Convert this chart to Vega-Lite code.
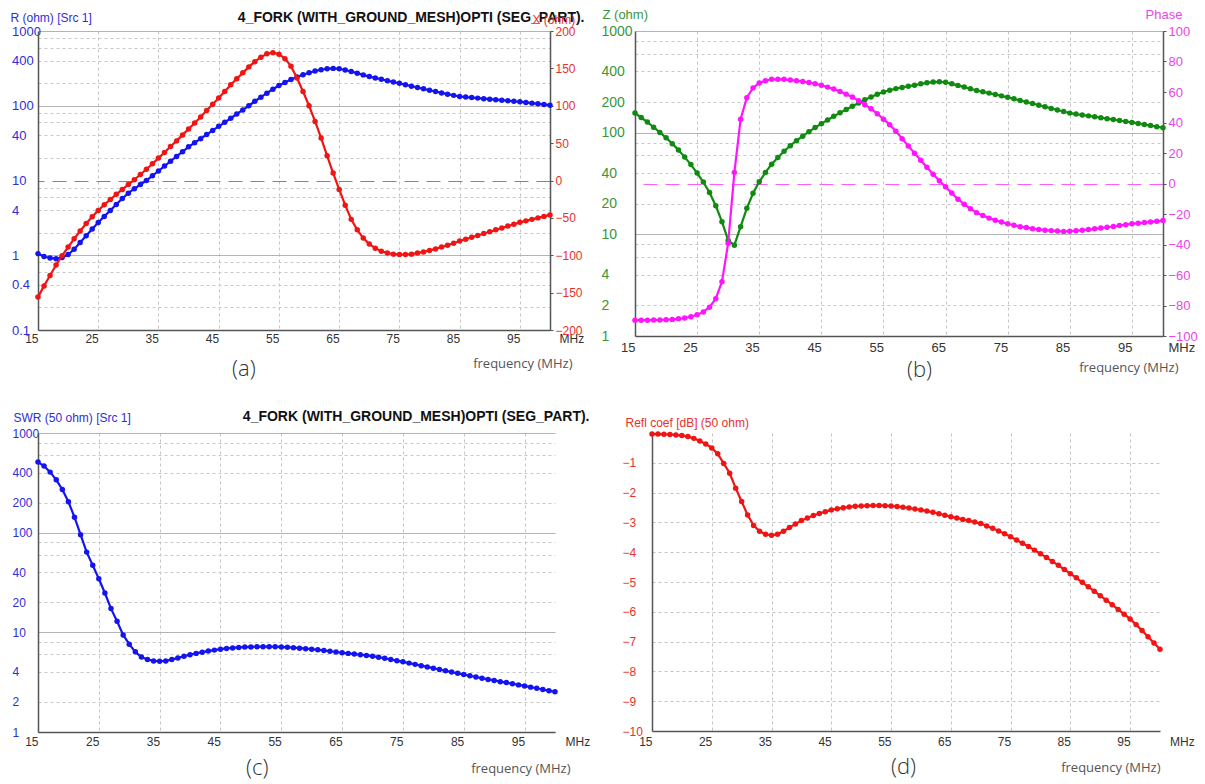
{
"$schema": "https://vega.github.io/schema/vega-lite/v6.json",
"background": "white",
"padding": {"left": 10, "top": 8, "right": 0, "bottom": 0},
"datasets": {"ant": [
{"f":15,"R":1.05,"X":-156,"Z":156,"P":-89.6,"S":511,"G":-0.034},
{"f":16,"R":0.96,"X":-141,"Z":141,"P":-89.6,"S":466,"G":-0.037},
{"f":17,"R":0.92,"X":-127,"Z":127,"P":-89.6,"S":405,"G":-0.043},
{"f":18,"R":0.90,"X":-113,"Z":113,"P":-89.5,"S":339,"G":-0.051},
{"f":19,"R":0.93,"X":-100.5,"Z":100.5,"P":-89.5,"S":271,"G":-0.064},
{"f":20,"R":1.02,"X":-89,"Z":89,"P":-89.3,"S":204,"G":-0.085},
{"f":21,"R":1.2,"X":-78,"Z":78,"P":-89.1,"S":143,"G":-0.12},
{"f":22,"R":1.48,"X":-67.5,"Z":67.5,"P":-88.7,"S":95.4,"G":-0.18},
{"f":23,"R":1.82,"X":-57.5,"Z":57.5,"P":-88.2,"S":63.8,"G":-0.27},
{"f":24,"R":2.24,"X":-48.5,"Z":48.55,"P":-87.4,"S":47,"G":-0.37},
{"f":25,"R":2.75,"X":-40,"Z":40.09,"P":-86.1,"S":34.5,"G":-0.5},
{"f":26,"R":3.31,"X":-32.5,"Z":32.67,"P":-84.2,"S":24.8,"G":-0.7},
{"f":27,"R":3.98,"X":-25.5,"Z":25.81,"P":-81.1,"S":17.3,"G":-1.02},
{"f":28,"R":4.79,"X":-18.5,"Z":19.11,"P":-75.5,"S":12.9,"G":-1.35},
{"f":29,"R":5.75,"X":-12,"Z":13.31,"P":-64.4,"S":9.42,"G":-1.85},
{"f":30,"R":6.76,"X":-5.5,"Z":8.71,"P":-39.1,"S":7.6,"G":-2.3},
{"f":31,"R":7.76,"X":1,"Z":7.82,"P":7.3,"S":6.37,"G":-2.75},
{"f":32,"R":8.81,"X":8,"Z":11.9,"P":42.2,"S":5.66,"G":-3.1},
{"f":33,"R":10,"X":15,"Z":18.03,"P":56.3,"S":5.33,"G":-3.3},
{"f":34,"R":11.6,"X":22.5,"Z":25.31,"P":62.7,"S":5.17,"G":-3.4},
{"f":35,"R":13.4,"X":30,"Z":32.86,"P":65.9,"S":5.13,"G":-3.43},
{"f":36,"R":15.6,"X":37.5,"Z":40.62,"P":67.4,"S":5.17,"G":-3.4},
{"f":37,"R":18.1,"X":45.5,"Z":48.97,"P":68.3,"S":5.33,"G":-3.3},
{"f":38,"R":21,"X":53,"Z":57.01,"P":68.4,"S":5.54,"G":-3.17},
{"f":39,"R":24.3,"X":61,"Z":65.66,"P":68.3,"S":5.75,"G":-3.05},
{"f":40,"R":28.2,"X":69,"Z":74.54,"P":67.8,"S":5.97,"G":-2.94},
{"f":41,"R":32,"X":77,"Z":83.39,"P":67.4,"S":6.15,"G":-2.85},
{"f":42,"R":36.3,"X":85,"Z":92.43,"P":66.9,"S":6.32,"G":-2.77},
{"f":43,"R":41.2,"X":93.5,"Z":102.2,"P":66.2,"S":6.49,"G":-2.7},
{"f":44,"R":46.8,"X":102,"Z":112.2,"P":65.4,"S":6.63,"G":-2.64},
{"f":45,"R":53,"X":110.5,"Z":122.6,"P":64.4,"S":6.78,"G":-2.58},
{"f":46,"R":60,"X":119,"Z":133.3,"P":63.2,"S":6.89,"G":-2.54},
{"f":47,"R":68,"X":128,"Z":144.9,"P":62,"S":6.97,"G":-2.51},
{"f":48,"R":77.6,"X":136,"Z":156.6,"P":60.3,"S":7.05,"G":-2.48},
{"f":49,"R":88,"X":144,"Z":168.8,"P":58.6,"S":7.11,"G":-2.46},
{"f":50,"R":100,"X":152,"Z":181.9,"P":56.7,"S":7.14,"G":-2.45},
{"f":51,"R":114.8,"X":159,"Z":196.1,"P":54.2,"S":7.17,"G":-2.44},
{"f":52,"R":130.3,"X":165,"Z":210.3,"P":51.7,"S":7.18,"G":-2.435},
{"f":53,"R":147.2,"X":169.5,"Z":224.5,"P":49,"S":7.18,"G":-2.435},
{"f":54,"R":166,"X":171,"Z":238.3,"P":45.8,"S":7.17,"G":-2.44},
{"f":55,"R":186.2,"X":169,"Z":251.5,"P":42.2,"S":7.14,"G":-2.45},
{"f":56,"R":204.2,"X":163,"Z":261.3,"P":38.6,"S":7.08,"G":-2.47},
{"f":57,"R":223.9,"X":153,"Z":271.2,"P":34.3,"S":7.02,"G":-2.49},
{"f":58,"R":242.7,"X":137,"Z":278.7,"P":29.4,"S":6.94,"G":-2.52},
{"f":59,"R":260,"X":119,"Z":285.9,"P":24.6,"S":6.86,"G":-2.55},
{"f":60,"R":275.4,"X":100,"Z":293,"P":19.9,"S":6.78,"G":-2.58},
{"f":61,"R":291.7,"X":79,"Z":302.2,"P":15.2,"S":6.68,"G":-2.62},
{"f":62,"R":304.1,"X":57,"Z":309.4,"P":10.6,"S":6.58,"G":-2.66},
{"f":63,"R":312.6,"X":33,"Z":314.3,"P":6,"S":6.46,"G":-2.71},
{"f":64,"R":316.2,"X":10,"Z":316.4,"P":1.8,"S":6.35,"G":-2.76},
{"f":65,"R":312.6,"X":-12,"Z":312.8,"P":-2.2,"S":6.24,"G":-2.81},
{"f":66,"R":300.6,"X":-33,"Z":302.4,"P":-6.3,"S":6.15,"G":-2.85},
{"f":67,"R":287.1,"X":-52,"Z":291.8,"P":-10.3,"S":6.05,"G":-2.9},
{"f":68,"R":272.9,"X":-66,"Z":280.8,"P":-13.6,"S":5.97,"G":-2.94},
{"f":69,"R":258.8,"X":-77,"Z":270,"P":-16.6,"S":5.87,"G":-2.99},
{"f":70,"R":245.5,"X":-85,"Z":259.8,"P":-19.1,"S":5.77,"G":-3.04},
{"f":71,"R":235.5,"X":-90.5,"Z":252.3,"P":-21,"S":5.63,"G":-3.12},
{"f":72,"R":225.9,"X":-94.5,"Z":244.9,"P":-22.7,"S":5.49,"G":-3.2},
{"f":73,"R":216.8,"X":-97,"Z":237.5,"P":-24.1,"S":5.34,"G":-3.29},
{"f":74,"R":208,"X":-98.5,"Z":230.1,"P":-25.3,"S":5.2,"G":-3.38},
{"f":75,"R":199.5,"X":-99,"Z":222.7,"P":-26.4,"S":5.06,"G":-3.48},
{"f":76,"R":191,"X":-99,"Z":215.1,"P":-27.4,"S":4.91,"G":-3.59},
{"f":77,"R":182.8,"X":-98.5,"Z":207.7,"P":-28.3,"S":4.77,"G":-3.7},
{"f":78,"R":175.4,"X":-97,"Z":200.4,"P":-28.9,"S":4.63,"G":-3.81},
{"f":79,"R":168.3,"X":-95.5,"Z":193.5,"P":-29.6,"S":4.5,"G":-3.93},
{"f":80,"R":161.4,"X":-93.5,"Z":186.5,"P":-30.1,"S":4.37,"G":-4.05},
{"f":81,"R":154.9,"X":-91.5,"Z":179.9,"P":-30.6,"S":4.24,"G":-4.18},
{"f":82,"R":148.6,"X":-89,"Z":173.2,"P":-30.9,"S":4.11,"G":-4.31},
{"f":83,"R":142.9,"X":-86.5,"Z":167,"P":-31.2,"S":4,"G":-4.44},
{"f":84,"R":137.7,"X":-84,"Z":161.3,"P":-31.4,"S":3.88,"G":-4.58},
{"f":85,"R":133,"X":-81,"Z":155.7,"P":-31.3,"S":3.77,"G":-4.72},
{"f":86,"R":130.6,"X":-78.5,"Z":152.4,"P":-31,"S":3.67,"G":-4.86},
{"f":87,"R":128.5,"X":-76,"Z":149.3,"P":-30.6,"S":3.56,"G":-5.01},
{"f":88,"R":126.5,"X":-73.5,"Z":146.3,"P":-30.2,"S":3.47,"G":-5.16},
{"f":89,"R":124.5,"X":-71,"Z":143.3,"P":-29.7,"S":3.37,"G":-5.31},
{"f":90,"R":122.5,"X":-68.5,"Z":140.4,"P":-29.2,"S":3.29,"G":-5.46},
{"f":91,"R":120.5,"X":-66,"Z":137.4,"P":-28.7,"S":3.2,"G":-5.61},
{"f":92,"R":118.6,"X":-63.5,"Z":134.5,"P":-28.2,"S":3.13,"G":-5.76},
{"f":93,"R":116.7,"X":-61,"Z":131.7,"P":-27.6,"S":3.05,"G":-5.92},
{"f":94,"R":114.8,"X":-58.5,"Z":128.8,"P":-27,"S":2.97,"G":-6.08},
{"f":95,"R":113,"X":-56,"Z":126.1,"P":-26.4,"S":2.9,"G":-6.24},
{"f":96,"R":110.7,"X":-54,"Z":123.2,"P":-26,"S":2.82,"G":-6.43},
{"f":97,"R":108.4,"X":-52,"Z":120.2,"P":-25.6,"S":2.75,"G":-6.63},
{"f":98,"R":106.2,"X":-50,"Z":117.4,"P":-25.2,"S":2.67,"G":-6.84},
{"f":99,"R":104,"X":-48,"Z":114.5,"P":-24.8,"S":2.6,"G":-7.05},
{"f":100,"R":101.9,"X":-46,"Z":111.8,"P":-24.3,"S":2.53,"G":-7.26}
]},
"spacing": 28,
"vconcat": [
{"hconcat": [
 {"width": 512, "height": 299,
  "data": {"name": "ant"},
  "title": {"text": "(a)", "orient": "bottom", "frame": "group", "anchor": "start", "dx": 194, "offset": -11, "font": "Open Sans", "fontSize": 22, "fontWeight": 300, "color": "#333333", "baseline": "top"},
  "layer": [
   {"mark": {"type": "line", "color": "#1414f0", "strokeWidth": 2.2, "point": {"filled": true, "size": 30, "color": "#1414f0"}},
    "encoding": {
     "x": {"field": "f", "type": "quantitative", "scale": {"domain": [15, 100], "nice": false, "zero": false},
      "axis": {"orient": "bottom", "values": [15,25,35,45,55,65,75,85,95,100],
       "labelExpr": "datum.value == 100 ? 'MHz' : datum.label",
       "labelAlign": {"condition": {"test": "datum.value == 100", "value": "left"}, "value": "right"},
       "labelOffset": {"condition": {"test": "datum.value == 100", "value": 9}, "value": 0},
       "labelBaseline": "top", "labelPadding": 3, "labelColor": "#333333", "labelFontSize": 12,
       "ticks": false, "tickSize": 0,
       "grid": true, "gridColor": "#c4c4c4", "gridDash": [3,3],
       "gridOpacity": {"condition": {"test": "datum.value == 15 || datum.value == 100", "value": 0}, "value": 1},
       "title": "frequency (MHz)", "titleX": 534, "titleY": 33, "titleAlign": "right", "titleBaseline": "middle", "titleFont": "Open Sans", "titleFontSize": 13, "titleColor": "#555555"}},
     "y": {"field": "R", "type": "quantitative", "scale": {"type": "log", "domain": [0.1, 1000]},
      "axis": {"orient": "left", "values": [0.1,0.2,0.4,0.6,0.8,1,2,4,6,8,10,20,40,60,80,100,200,400,600,800,1000],
       "labelExpr": "indexof([0.1,0.4,1,4,10,40,100,400,1000], datum.value) >= 0 ? '' + datum.value : ''",
       "labelAlign": "left", "labelBaseline": "middle", "labelPadding": 26.5, "labelColor": "#2e2ed8", "labelFontSize": 13, "labelFont": "Liberation Sans Narrow, Liberation Sans",
       "ticks": false, "tickSize": 0,
       "grid": true,
       "gridColor": {"condition": {"test": "indexof([0.1,1,10,100,1000], datum.value) >= 0", "value": "#b4b4b4"}, "value": "#c8c8c8"},
       "gridDash": {"condition": {"test": "indexof([0.1,1,10,100,1000], datum.value) >= 0", "value": []}, "value": [3,3]},
       "gridOpacity": {"condition": {"test": "datum.value == 10", "value": 0}, "value": 1},
       "title": "R (ohm) [Src 1]", "titleAngle": 0, "titleAlign": "left", "titleBaseline": "middle", "titleX": -28, "titleY": -14, "titleColor": "#2e2ed8", "titleFontSize": 12}}
    }},
   {"mark": {"type": "line", "color": "#f01414", "strokeWidth": 2.2, "point": {"filled": true, "size": 30, "color": "#f01414"}},
    "encoding": {
     "x": {"field": "f", "type": "quantitative",
      "axis": {"orient": "top", "labels": false, "ticks": false, "domain": false, "grid": false,
       "title": "4_FORK (WITH_GROUND_MESH)OPTI (SEG_PART).", "titleX": 546, "titleY": -14, "titleAlign": "right", "titleBaseline": "middle", "titleFontSize": 14, "titleFontWeight": "bold", "titleColor": "#111111"}},
     "y": {"field": "X", "type": "quantitative", "scale": {"domain": [-200, 200], "nice": false, "zero": false},
      "axis": {"orient": "right", "values": [-200,-150,-100,-50,0,50,100,150,200],
       "labelAlign": "left", "labelBaseline": "middle", "labelPadding": 2, "labelColor": "#e8302c", "labelFontSize": 12,
       "ticks": true, "tickSize": 3, "tickColor": "#555555",
       "grid": true, "gridColor": "#ff5050", "gridDash": [14,8], "gridWidth": 1.2,
       "gridOpacity": {"condition": {"test": "datum.value === 0", "value": 1}, "value": 0},
       "title": "X (ohm)", "titleAngle": 0, "titleAlign": "left", "titleBaseline": "middle", "titleX": -18, "titleY": -12, "titleColor": "#e8302c", "titleFontSize": 12}}
    }}
  ],
  "resolve": {"scale": {"y": "independent"}, "axis": {"x": "independent", "y": "independent"}}
 },
 {"width": 528, "height": 305,
  "data": {"name": "ant"},
  "title": {"text": "(b)", "orient": "bottom", "frame": "group", "anchor": "start", "dx": 272, "offset": -14, "font": "Open Sans", "fontSize": 22, "fontWeight": 300, "color": "#333333", "baseline": "top"},
  "encoding": {
   "x": {"field": "f", "type": "quantitative", "scale": {"domain": [15, 100], "nice": false, "zero": false},
    "axis": {"orient": "bottom", "values": [15,25,35,45,55,65,75,85,95,100],
     "labelExpr": "datum.value == 100 ? 'MHz' : datum.label",
     "labelAlign": {"condition": {"test": "datum.value == 100", "value": "left"}, "value": "right"},
     "labelOffset": {"condition": {"test": "datum.value == 100", "value": 5}, "value": 0},
     "labelBaseline": "top", "labelPadding": 5, "labelColor": "#333333", "labelFontSize": 13,
     "ticks": false, "tickSize": 0,
     "grid": true, "gridColor": "#c4c4c4", "gridDash": [3,3],
     "gridOpacity": {"condition": {"test": "datum.value == 15 || datum.value == 100", "value": 0}, "value": 1},
     "title": "frequency (MHz)", "titleX": 543, "titleY": 31, "titleAlign": "right", "titleBaseline": "middle", "titleFont": "Open Sans", "titleFontSize": 13, "titleColor": "#555555"}}
  },
  "layer": [
   {"mark": {"type": "line", "color": "#118a11", "strokeWidth": 2.2, "point": {"filled": true, "size": 30, "color": "#118a11"}},
    "encoding": {
     "y": {"field": "Z", "type": "quantitative", "scale": {"type": "log", "domain": [1, 1000]},
      "axis": {"orient": "left", "values": [1,2,4,6,8,10,20,40,60,80,100,200,400,600,800,1000],
       "labelExpr": "indexof([1,2,4,10,20,40,100,200,400,1000], datum.value) >= 0 ? '' + datum.value : ''",
       "labelAlign": "left", "labelBaseline": "middle", "labelPadding": 34, "labelColor": "#3a963a", "labelFontSize": 14,
       "ticks": false, "tickSize": 0,
       "grid": true,
       "gridColor": {"condition": {"test": "indexof([1,10,100,1000], datum.value) >= 0", "value": "#b4b4b4"}, "value": "#c8c8c8"},
       "gridDash": {"condition": {"test": "indexof([1,10,100,1000], datum.value) >= 0", "value": []}, "value": [3,3]},
       "title": "Z (ohm)", "titleAngle": 0, "titleAlign": "left", "titleBaseline": "middle", "titleX": -33, "titleY": -17, "titleColor": "#3a963a", "titleFontSize": 13}}
    }},
   {"mark": {"type": "line", "color": "#ff14ff", "strokeWidth": 2.2, "point": {"filled": true, "size": 30, "color": "#ff14ff"}},
    "encoding": {
     "y": {"field": "P", "type": "quantitative", "scale": {"domain": [-100, 100], "nice": false, "zero": false},
      "axis": {"orient": "right", "values": [-100,-80,-60,-40,-20,0,20,40,60,80,100],
       "labelAlign": "left", "labelBaseline": "middle", "labelPadding": 2, "labelColor": "#e846e8", "labelFontSize": 13,
       "ticks": true, "tickSize": 3, "tickColor": "#555555",
       "grid": true, "gridColor": "#ff5cff", "gridDash": [14,8], "gridWidth": 1.2,
       "gridOpacity": {"condition": {"test": "datum.value === 0", "value": 1}, "value": 0},
       "title": "Phase", "titleAngle": 0, "titleAlign": "left", "titleBaseline": "middle", "titleX": -18, "titleY": -17, "titleColor": "#e846e8", "titleFontSize": 13}}
    }}
  ],
  "resolve": {"scale": {"y": "independent"}}
 }
], "spacing": 85, "bounds": "flush"},
{"hconcat": [
 {"width": 517, "height": 299,
  "data": {"name": "ant"},
  "title": {"text": "(c)", "orient": "bottom", "frame": "group", "anchor": "start", "dx": 208, "offset": -17, "font": "Open Sans", "fontSize": 22, "fontWeight": 300, "color": "#333333", "baseline": "top"},
  "layer": [
   {"mark": {"type": "line", "color": "#1414f0", "strokeWidth": 2.2},
    "encoding": {
     "x": {"field": "f", "type": "quantitative", "scale": {"domain": [15, 100], "nice": false, "zero": false},
      "axis": {"orient": "bottom", "values": [15,25,35,45,55,65,75,85,95,100],
       "labelExpr": "datum.value == 100 ? 'MHz' : datum.label",
       "labelAlign": {"condition": {"test": "datum.value == 100", "value": "left"}, "value": "right"},
       "labelOffset": {"condition": {"test": "datum.value == 100", "value": 10}, "value": 0},
       "labelBaseline": "top", "labelPadding": 4, "labelColor": "#333333", "labelFontSize": 12,
       "ticks": false, "tickSize": 0,
       "grid": true, "gridColor": "#c4c4c4", "gridDash": [3,3],
       "gridOpacity": {"condition": {"test": "datum.value == 15 || datum.value == 100", "value": 0}, "value": 1},
       "title": "frequency (MHz)", "titleX": 532, "titleY": 36, "titleAlign": "right", "titleBaseline": "middle", "titleFont": "Open Sans", "titleFontSize": 13, "titleColor": "#555555"}},
     "y": {"field": "S", "type": "quantitative", "scale": {"type": "log", "domain": [1, 1000]},
      "axis": {"orient": "left", "values": [1,2,4,6,8,10,20,40,60,80,100,200,400,600,800,1000],
       "labelExpr": "indexof([1,2,4,10,20,40,100,200,400,1000], datum.value) >= 0 ? '' + datum.value : ''",
       "labelAlign": "left", "labelBaseline": "middle", "labelPadding": 26, "labelColor": "#2e2ed8", "labelFontSize": 12,
       "ticks": false, "tickSize": 0,
       "grid": true,
       "gridColor": {"condition": {"test": "indexof([1,10,100,1000], datum.value) >= 0", "value": "#b4b4b4"}, "value": "#c8c8c8"},
       "gridDash": {"condition": {"test": "indexof([1,10,100,1000], datum.value) >= 0", "value": []}, "value": [3,3]},
       "title": "SWR (50 ohm) [Src 1]", "titleAngle": 0, "titleAlign": "left", "titleBaseline": "middle", "titleX": -25, "titleY": -16, "titleColor": "#2e2ed8", "titleFontSize": 12}}
    }},
   {"mark": {"type": "circle", "color": "#1414f0", "size": 30, "opacity": 1},
    "encoding": {
     "x": {"field": "f", "type": "quantitative",
      "axis": {"orient": "top", "labels": false, "ticks": false, "domain": false, "grid": false,
       "title": "4_FORK (WITH_GROUND_MESH)OPTI (SEG_PART).", "titleX": 551, "titleY": -17, "titleAlign": "right", "titleBaseline": "middle", "titleFontSize": 14, "titleFontWeight": "bold", "titleColor": "#111111"}},
     "y": {"field": "S", "type": "quantitative"}
    }}
  ],
  "resolve": {"axis": {"x": "independent"}}
 },
 {"width": 508, "height": 298,
  "data": {"name": "ant"},
  "title": {"text": "(d)", "orient": "bottom", "frame": "group", "anchor": "start", "dx": 239, "offset": -17, "font": "Open Sans", "fontSize": 22, "fontWeight": 300, "color": "#333333", "baseline": "top"},
  "mark": {"type": "line", "color": "#f01414", "strokeWidth": 2.2, "point": {"filled": true, "size": 30, "color": "#f01414"}},
  "encoding": {
   "x": {"field": "f", "type": "quantitative", "scale": {"domain": [15, 100], "nice": false, "zero": false},
    "axis": {"orient": "bottom", "values": [15,25,35,45,55,65,75,85,95,100],
     "labelExpr": "datum.value == 100 ? 'MHz' : datum.label",
     "labelAlign": {"condition": {"test": "datum.value == 100", "value": "left"}, "value": "right"},
     "labelOffset": {"condition": {"test": "datum.value == 100", "value": 9.5}, "value": 0},
     "labelBaseline": "top", "labelPadding": 5, "labelColor": "#333333", "labelFontSize": 12,
     "ticks": false, "tickSize": 0,
     "grid": true, "gridColor": "#c4c4c4", "gridDash": [3,3],
     "gridOpacity": {"condition": {"test": "datum.value == 15 || datum.value == 100", "value": 0}, "value": 1},
     "title": "frequency (MHz)", "titleX": 508, "titleY": 36, "titleAlign": "right", "titleBaseline": "middle", "titleFont": "Open Sans", "titleFontSize": 13, "titleColor": "#555555"}},
   "y": {"field": "G", "type": "quantitative", "scale": {"domain": [-10, 0], "nice": false, "zero": false},
    "axis": {"orient": "left", "values": [-10,-9,-8,-7,-6,-5,-4,-3,-2,-1],
     "labelAlign": "left", "labelBaseline": "middle", "labelPadding": 30, "labelColor": "#e8302c", "labelFontSize": 12,
     "ticks": false, "tickSize": 0,
     "grid": true, "gridColor": "#c4c4c4", "gridDash": [3,3],
     "title": "Refl coef [dB] (50 ohm)", "titleAngle": 0, "titleAlign": "left", "titleBaseline": "middle", "titleX": -27, "titleY": -11, "titleColor": "#e8302c", "titleFontSize": 12}}
  }
 }
], "spacing": 97, "bounds": "flush"}
],
"config": {
 "view": {"stroke": null},
 "axis": {"labelFont": "Liberation Sans", "titleFont": "Liberation Sans", "titleFontWeight": "normal", "labelOverlap": false, "labelBound": false, "labelFlush": false, "domainColor": "#555555", "domainWidth": 1.5}
}
}
